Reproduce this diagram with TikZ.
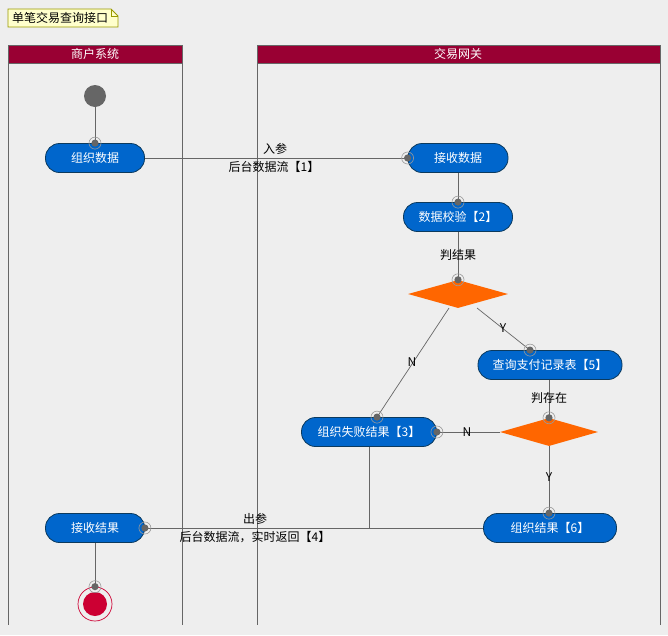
\documentclass[tikz,border=0pt]{standalone}
\usepackage{fontspec}
\setmainfont{Noto Sans CJK SC}
\usetikzlibrary{shapes.geometric,calc}
\definecolor{bg}{HTML}{EEEEEE}
\definecolor{lanered}{HTML}{990033}
\definecolor{actblue}{HTML}{0066CC}
\definecolor{actborder}{HTML}{0B3A5E}
\definecolor{dec}{HTML}{FF6600}
\definecolor{linegray}{HTML}{666666}
\definecolor{ringgray}{HTML}{999999}
\definecolor{notefill}{HTML}{FFFFCC}
\definecolor{noteborder}{HTML}{999900}
\definecolor{endred}{HTML}{CC0033}
\newcommand\portmark[1]{\draw[ringgray,line width=0.6pt] (#1) circle (6); \fill[linegray] (#1) circle (3.6);}
\begin{document}
\begin{tikzpicture}[x=1pt,y=-1pt,
  every node/.style={font=\fontsize{12}{14}\selectfont, inner sep=0pt},
  act/.style={draw=actborder, fill=actblue, text=white, rounded corners=14pt, minimum height=29pt, line width=0.8pt},
  dia/.style={diamond, fill=dec, draw=none, minimum width=100pt, minimum height=28pt},
  conn/.style={draw=linegray, line width=0.7pt},
  lane/.style={draw=linegray, line width=0.8pt},
  lanehead/.style={fill=lanered, draw=linegray, line width=0.8pt},
  lbl/.style={text=black, fill=none}
]
\fill[bg] (0,0) rectangle (668,635);
\useasboundingbox (0,0) rectangle (668,635);

% note
\draw[fill=notefill, draw=noteborder, line width=0.8pt] (8,9) -- (111,9) -- (118,16) -- (118,27) -- (8,27) -- cycle;
\draw[noteborder, line width=0.6pt] (111,9) -- (111,16) -- (118,16);
\node[anchor=west] (note) at (12,18) {单笔交易查询接口};

% lanes
\draw[lanehead] (8,45) rectangle (182,63);
\node[text=white] (lane1) at (95,54) {商户系统};
\draw[lane] (8,63) -- (8,625);
\draw[lane] (182,63) -- (182,625);
\draw[lanehead] (257,45) rectangle (660,63);
\node[text=white] (lane2) at (458,54) {交易网关};
\draw[lane] (257,63) -- (257,625);
\draw[lane] (660,63) -- (660,625);

% nodes
\node[circle, fill=linegray, minimum size=22pt] (start) at (95,96) {};
\node[act, minimum width=99pt] (org) at (95,158) {组织数据};
\node[act, minimum width=100pt] (recv) at (458,158) {接收数据};
\node[act, minimum width=109pt] (check) at (458,217) {数据校验【2】};
\node[dia] (dia1) at (458,294) {};
\node[act, minimum width=144pt] (query) at (550,365) {查询支付记录表【5】};
\node[dia, minimum width=98pt] (dia2) at (549,432) {};
\node[act, minimum width=135pt] (fail) at (369,432) {组织失败结果【3】};
\node[act, minimum width=133pt] (result) at (550,528) {组织结果【6】};
\node[act, minimum width=99pt] (recvres) at (95,528) {接收结果};
\node[circle, draw=endred, line width=0.7pt, minimum size=34pt] (end) at (95,604) {};
\fill[endred] (end.center) circle (12);

\coordinate (qport) at ($(query.north)+(-20,0)$);
\coordinate (fport) at ($(fail.north)+(8,0)$);
\coordinate (yfrom) at ($(dia1.center)+(19,14)$);
\coordinate (nfrom) at ($(dia1.center)+(-9,14)$);
\coordinate (join) at (fail.south |- result.west);
\coordinate (qbot) at (dia2.north |- query.south);
\coordinate (rtop) at (dia2.south |- result.north);

% connectors
\draw[conn] (start) -- (org.north);
\draw[conn] (org.east) -- (recv.west);
\draw[conn] (recv.south) -- (check.north);
\draw[conn] (check.south) -- (dia1.north);
\draw[conn] (yfrom) -- (qport);
\draw[conn] (nfrom) -- (fport);
\draw[conn] (qbot) -- (dia2.north);
\draw[conn] (dia2.west) -- (fail.east);
\draw[conn] (dia2.south) -- (rtop);
\draw[conn] (result.west) -- (recvres.east);
\draw[conn] (fail.south) -- (join);
\draw[conn] (recvres.south) -- (end.north);

% ports
\portmark{org.north}
\portmark{recv.west}
\portmark{check.north}
\portmark{dia1.north}
\portmark{qport}
\portmark{fport}
\portmark{fail.east}
\portmark{dia2.north}
\portmark{rtop}
\portmark{recvres.east}
\portmark{end.north}

% labels
\node[lbl] (in1) at (275,149) {入参};
\node[lbl] (in2) at (274,167) {后台数据流【1】};
\node[lbl] (j1) at (458,255) {判结果};
\node[lbl] (ylab1) at (503,328) {Y};
\node[lbl] (nlab1) at (412,362) {N};
\node[lbl] (j2) at (549,398) {判存在};
\node[lbl] (nlab2) at (467,432) {N};
\node[lbl] (ylab2) at (549,477) {Y};
\node[lbl] (out1) at (255,519) {出参};
\node[lbl] (out2) at (255,537) {后台数据流，实时返回【4】};
\end{tikzpicture}
\end{document}
